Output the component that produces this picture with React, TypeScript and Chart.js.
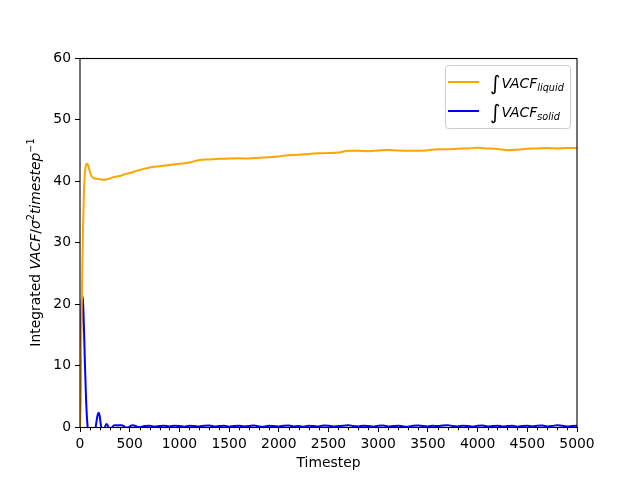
import React, { useEffect, useRef } from "react";
import { Chart, registerables } from "chart.js";
Chart.register(...registerables);

const FONT = "'DejaVu Sans', sans-serif";
const FS = 13.9;

const liquidSteps = [0, 5, 10, 15, 20, 30, 40, 50, 60, 70, 80, 95, 110, 125, 150, 200, 250, 300, 350, 400, 450, 500, 600, 700, 800, 900, 1000, 1100, 1200, 1300, 1400, 1500, 1600, 1700, 1800, 1900, 2000, 2100, 2200, 2300, 2400, 2500, 2600, 2700, 2800, 2900, 3000, 3100, 3200, 3300, 3400, 3500, 3600, 3700, 3800, 3900, 4000, 4100, 4200, 4300, 4400, 4500, 4600, 4700, 4800, 4900, 5000];
const liquidValues = [0, 6, 12, 17, 22, 32, 38.5, 41.5, 42.6, 42.8, 42.6, 41.8, 41.0, 40.6, 40.4, 40.3, 40.2, 40.4, 40.7, 40.8, 41.1, 41.3, 41.8, 42.2, 42.4, 42.6, 42.8, 43.0, 43.4, 43.5, 43.6, 43.65, 43.7, 43.65, 43.8, 43.85, 44.0, 44.2, 44.25, 44.4, 44.5, 44.55, 44.65, 44.9, 44.9, 44.85, 44.95, 45.05, 44.95, 44.9, 44.9, 45.0, 45.15, 45.15, 45.25, 45.3, 45.4, 45.3, 45.2, 45.0, 45.1, 45.25, 45.3, 45.35, 45.3, 45.35, 45.35];

const solidSteps = [0, 5, 10, 15, 20, 25, 30, 40, 50, 60, 70, 80, 100, 130, 150, 165, 178, 188, 198, 210, 225, 245, 258, 268, 280, 295, 320, 340, 360, 380, 400, 420, 440, 460, 490, 510, 530, 550, 575,
  600, 650, 700, 750, 800, 850, 900, 950, 1000, 1050, 1100, 1150, 1200, 1250, 1300, 1350, 1400, 1450, 1500, 1550, 1600, 1650, 1700, 1750, 1800, 1850, 1900, 1950, 2000, 2050, 2100, 2150, 2200, 2250, 2300, 2350, 2400, 2450, 2500, 2550, 2600, 2650, 2700, 2750, 2800, 2850, 2900, 2950, 3000, 3050, 3100, 3150, 3200, 3250, 3300, 3350, 3400, 3450, 3500, 3550, 3600, 3650, 3700, 3750, 3800, 3850, 3900, 3950, 4000, 4050, 4100, 4150, 4200, 4250, 4300, 4350, 4400, 4450, 4500, 4550, 4600, 4650, 4700, 4750, 4800, 4850, 4900, 4950, 5000];
const solidValues = [0, 8, 15, 19.5, 21, 21.2, 20.5, 16, 10, 5, 1.5, -0.5, -2, -2, -0.8, 0.8, 2.0, 2.3, 1.8, 0.3, -0.6, -0.3, 0.3, 0.5, 0.2, -0.2, -0.1, 0.25, 0.3, 0.25, 0.3, 0.3, 0.15, -0.1, -0.05, 0.2, 0.3, 0.2, 0.05,
  -0.05, 0.15, 0.2, 0.05, 0.15, 0.2, 0.1, 0.2, 0.15, 0.05, 0.2, 0.15, 0.1, 0.2, 0.25, 0.1, 0.15, 0.2, 0.05, 0.15, 0.2, 0.1, 0.15, 0.25, 0.1, 0.05, 0.2, 0.15, 0.1, 0.2, 0.25, 0.1, 0.15, 0.05, 0.2, 0.15, 0.1, 0.25, 0.2, 0.1, 0.15, 0.2, 0.3, 0.15, 0.1, 0.2, 0.15, 0.05, 0.2, 0.25, 0.1, 0.15, 0.2, 0.1, 0.05, 0.2, 0.25, 0.15, 0.1, 0.2, 0.15, 0.25, 0.3, 0.15, 0.1, 0.2, 0.15, 0.05, 0.2, 0.25, 0.1, 0.15, 0.2, 0.1, 0.15, 0.2, 0.05, 0.15, 0.2, 0.1, 0.2, 0.25, 0.1, 0.15, 0.3, 0.2, 0.1, 0.15, 0.2];

const xMin = 0;
const xMax = 5000;
const xMajorStep = 500;
const xMinorStep = 100;
const yMin = 0;
const yMax = 60;
const yStep = 10;
const xTitle = "Timestep";

const LIQUID_COLOR = "#ffa500";
const SOLID_COLOR = "#0000ff";

type Seg = { t: string; it?: boolean; sc?: number; dy?: number; gap?: number };

const yTitleSegs: Seg[] = [
  { t: "Integrated " },
  { t: "VACF", it: true },
  { t: "/" },
  { t: "σ", it: true },
  { t: "2", sc: 0.7, dy: -6 },
  { t: "timestep", it: true },
  { t: "−1", sc: 0.7, dy: -6 },
];

const legendItems: { color: string; segs: Seg[] }[] = [
  { color: LIQUID_COLOR, segs: [{ t: "∫", sc: 1.45, dy: 2, gap: 1 }, { t: "VACF", it: true }, { t: "liquid", it: true, sc: 0.7, dy: 3 }] },
  { color: SOLID_COLOR, segs: [{ t: "∫", sc: 1.45, dy: 2, gap: 1 }, { t: "VACF", it: true }, { t: "solid", it: true, sc: 0.7, dy: 3 }] },
];

function segFont(s: Seg) {
  return `${s.it ? "italic " : ""}${FS * (s.sc ?? 1)}px ${FONT}`;
}
function measureSegs(ctx: CanvasRenderingContext2D, segs: Seg[]) {
  let w = 0;
  for (const s of segs) {
    ctx.font = segFont(s);
    w += ctx.measureText(s.t).width + (s.gap ?? 0);
  }
  return w;
}
function drawSegs(ctx: CanvasRenderingContext2D, segs: Seg[], x: number, y: number) {
  let cx = x;
  ctx.textAlign = "left";
  ctx.textBaseline = "alphabetic";
  for (const s of segs) {
    ctx.font = segFont(s);
    ctx.fillText(s.t, cx, y + (s.dy ?? 0));
    cx += ctx.measureText(s.t).width + (s.gap ?? 0);
  }
}

const decorPlugin = {
  id: "decor",
  afterDraw(chart: any) {
    const { ctx, chartArea: a, scales } = chart;
    ctx.save();
    // frame
    ctx.strokeStyle = "#000";
    ctx.lineWidth = 1.1;
    ctx.strokeRect(a.left, a.top + 0.5, a.right - a.left, a.bottom - a.top);
    // minor x ticks
    const xs = scales.x;
    ctx.lineWidth = 1;
    for (let v = xMin; v <= xMax; v += xMinorStep) {
      if (v % xMajorStep === 0) continue;
      const px = Math.round(xs.getPixelForValue(v)) + 0.5;
      ctx.beginPath();
      ctx.moveTo(px, a.bottom);
      ctx.lineTo(px, a.bottom + 3.3);
      ctx.stroke();
    }
    // x title
    ctx.fillStyle = "#000";
    ctx.font = `${FS}px ${FONT}`;
    ctx.textAlign = "center";
    ctx.textBaseline = "alphabetic";
    ctx.fillText(xTitle, (a.left + a.right) / 2, a.bottom + 40);
    // y title
    const yw = measureSegs(ctx, yTitleSegs);
    ctx.save();
    ctx.translate(a.left - 40.5, (a.top + a.bottom) / 2);
    ctx.rotate(-Math.PI / 2);
    drawSegs(ctx, yTitleSegs, -yw / 2, 0);
    ctx.restore();
    // legend
    const bw = 125;
    const bh = 63;
    const bx = a.right - 7 - bw;
    const by = a.top + 7;
    ctx.beginPath();
    ctx.roundRect(bx + 0.5, by + 0.5, bw, bh, 3);
    ctx.fillStyle = "rgba(255,255,255,0.8)";
    ctx.fill();
    ctx.strokeStyle = "#cccccc";
    ctx.lineWidth = 1;
    ctx.stroke();
    legendItems.forEach((it, i) => {
      const cy = by + 17 + i * 29;
      ctx.strokeStyle = it.color;
      ctx.lineWidth = 2;
      ctx.beginPath();
      ctx.moveTo(bx + 3, cy);
      ctx.lineTo(bx + 34, cy);
      ctx.stroke();
      ctx.fillStyle = "#000";
      drawSegs(ctx, it.segs, bx + 45, cy + 6);
    });
    ctx.restore();
  },
};

export default function App() {
  const ref = useRef<HTMLCanvasElement>(null);
  useEffect(() => {
    if (!ref.current) return;
    const tickFont = { family: FONT, size: FS };
    const chart = new Chart(ref.current, {
      type: "line",
      data: {
        datasets: [
          {
            label: "liquid",
            data: liquidSteps.map((x, i) => ({ x, y: liquidValues[i] })),
            borderColor: LIQUID_COLOR,
            backgroundColor: LIQUID_COLOR,
            borderWidth: 2,
            pointRadius: 0,
            cubicInterpolationMode: "monotone",
          },
          {
            label: "solid",
            data: solidSteps.map((x, i) => ({ x, y: solidValues[i] })),
            borderColor: SOLID_COLOR,
            backgroundColor: SOLID_COLOR,
            borderWidth: 2,
            pointRadius: 0,
            cubicInterpolationMode: "monotone",
          },
        ],
      },
      options: {
        animation: false,
        responsive: false,
        maintainAspectRatio: false,
        devicePixelRatio: 1,
        layout: { padding: { left: 0, top: 58, right: 63, bottom: 0 } },
        plugins: { legend: { display: false }, tooltip: { enabled: false } },
        scales: {
          x: {
            type: "linear",
            min: xMin,
            max: xMax,
            grid: { display: true, drawOnChartArea: false, drawTicks: true, tickLength: 5, tickColor: "#000", tickWidth: 1 },
            border: { display: false },
            ticks: {
              stepSize: xMajorStep,
              autoSkip: false,
              maxRotation: 0,
              padding: 4,
              color: "#000",
              font: tickFont,
              callback: (v: any) => String(v),
            },
            afterFit: (s: any) => { s.height = 53; },
          },
          y: {
            min: yMin,
            max: yMax,
            grid: { display: true, drawOnChartArea: false, drawTicks: true, tickLength: 5, tickColor: "#000", tickWidth: 1 },
            border: { display: false },
            ticks: {
              stepSize: yStep,
              padding: 4,
              color: "#000",
              font: tickFont,
              callback: (v: any) => String(v),
            },
            afterFit: (s: any) => { s.width = 80; },
          },
        },
      },
      plugins: [decorPlugin],
    });
    return () => chart.destroy();
  }, []);
  return (
    <div style={{ position: "fixed", left: 0, top: 0, width: 640, height: 480, background: "#fff" }}>
      <canvas ref={ref} width={640} height={480} style={{ display: "block" }} />
    </div>
  );
}
